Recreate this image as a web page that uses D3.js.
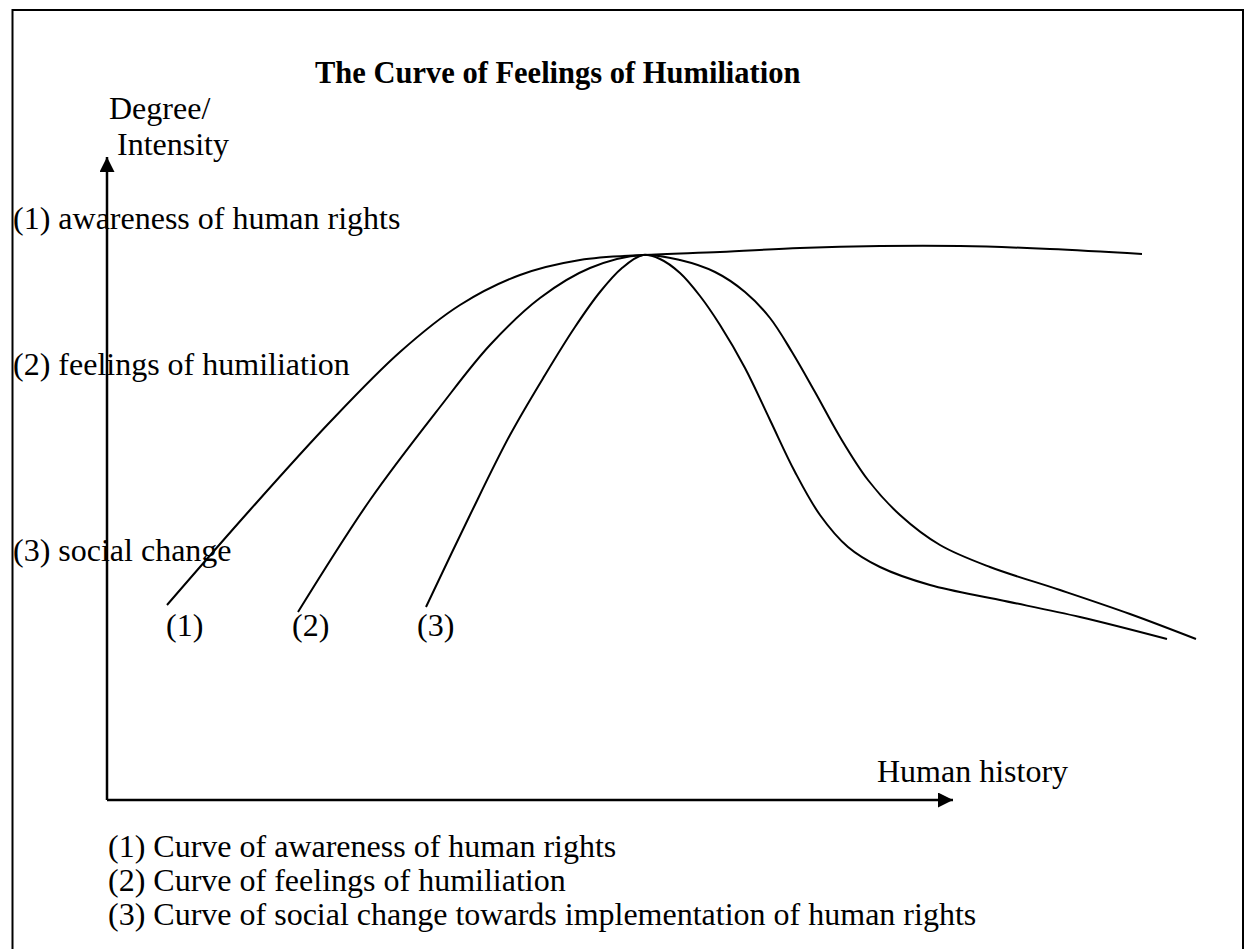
<!DOCTYPE html>
<html>
<head>
<meta charset="utf-8">
<script src="https://cdn.jsdelivr.net/npm/d3@7"></script>
<style>
    body { margin: 0; background: #fff; }
    svg { display: block; }
    text { font-family: "Liberation Serif", "Times New Roman", serif; fill: #000; }
</style>
</head>
<body>
<div id="chart"></div>
<script>
"use strict";

/* Values: history on x, degree/intensity on y. */
var titleText = "The Curve of Feelings of Humiliation",
    yAxisLabel = ["Degree/", "Intensity"],
    xAxisLabel = "Human history",

    sideLabels = [
	"(1) awareness of human rights",
	"(2) feelings of humiliation",
	"(3) social change"
    ],
    curveIds = ["(1)", "(2)", "(3)"],
    legendLines = [
	"(1) Curve of awareness of human rights",
	"(2) Curve of feelings of humiliation",
	"(3) Curve of social change towards implementation of human rights"
    ],

    // (1) awareness of human rights
    awarenessCurve = [
	[6.0, 19.5], [14.3, 29.0], [22.3, 37.8], [29.3, 44.8], [35.3, 49.5],
	[41.3, 52.5], [47.3, 54.0], [53.6, 54.5], [61.3, 54.8], [69.3, 55.2],
	[77.3, 55.4], [85.3, 55.4], [94.3, 55.1], [103.5, 54.6]
    ],
    // (2) feelings of humiliation
    humiliationCurve = [
	[19.1, 18.8], [26.3, 30.0], [33.3, 39.3], [38.3, 45.5], [43.3, 50.2],
	[48.3, 53.2], [53.6, 54.5], [57.3, 54.0], [60.8, 52.8], [63.8, 50.8],
	[66.3, 48.2], [68.5, 44.8], [70.8, 40.8], [73.3, 36.3], [76.1, 32.0],
	[79.3, 28.5], [83.3, 25.5], [88.3, 23.3], [95.3, 21.0], [102.3, 18.6],
	[108.9, 16.1]
    ],
    // (3) social change
    socialChangeCurve = [
	[31.9, 19.3], [36.3, 28.5], [40.3, 36.5], [43.8, 42.5], [46.8, 47.3],
	[49.3, 50.8], [51.5, 53.2], [53.6, 54.5], [55.3, 54.1], [57.3, 52.7],
	[59.3, 50.4], [61.3, 47.5], [63.8, 43.2], [66.3, 38.0], [68.8, 32.8],
	[71.3, 28.5], [74.1, 25.3], [77.3, 23.3], [82.3, 21.5], [89.3, 20.0],
	[97.3, 18.3], [106.0, 16.1]
    ],

    width = 1248,
    height = 949,
    fontSize = 32,
    titleSize = 30.5;

var svg = d3.select("#chart")
	.append("svg")
	.attr("width", width)
	.attr("height", height);

// frame round the figure
svg.append("rect")
    .attr("x", 12.5)
    .attr("y", 10)
    .attr("width", 1230.5)
    .attr("height", 960)
    .attr("fill", "none")
    .attr("stroke", "#000")
    .attr("stroke-width", 2);

var x = d3.scaleLinear().domain([0, 84.6]).range([107, 953]),
    y = d3.scaleLinear().domain([0, 64.3]).range([800, 157]);

var defs = svg.append("defs");

defs.append("marker")
    .attr("id", "arrow")
    .attr("viewBox", "0 0 10 10")
    .attr("refX", 10)
    .attr("refY", 5)
    .attr("markerUnits", "userSpaceOnUse")
    .attr("markerWidth", 16)
    .attr("markerHeight", 15)
    .attr("orient", "auto")
    .append("path")
    .attr("d", "M0,0L10,5L0,10Z")
    .attr("fill", "#000");

var axes = svg.append("g").attr("class", "axes");

axes.append("line")
    .attr("x1", x(0)).attr("y1", y(0))
    .attr("x2", x(0)).attr("y2", y(64.3))
    .attr("stroke", "#000")
    .attr("stroke-width", 2.5)
    .attr("marker-end", "url(#arrow)");

axes.append("line")
    .attr("x1", x(0)).attr("y1", y(0))
    .attr("x2", x(84.6)).attr("y2", y(0))
    .attr("stroke", "#000")
    .attr("stroke-width", 2.5)
    .attr("marker-end", "url(#arrow)");

var line = d3.line()
	.x(function(d) { return x(d[0]); })
	.y(function(d) { return y(d[1]); })
	.curve(d3.curveCatmullRom.alpha(0.5));

svg.append("g")
    .attr("class", "curves")
    .selectAll("path")
    .data([awarenessCurve, humiliationCurve, socialChangeCurve])
    .enter()
    .append("path")
    .attr("d", line)
    .attr("fill", "none")
    .attr("stroke", "#000")
    .attr("stroke-width", 2);

// texts
svg.append("text")
    .attr("x", 315)
    .attr("y", 83)
    .attr("font-size", titleSize)
    .attr("font-weight", "bold")
    .text(titleText);

svg.selectAll("text.y-label")
    .data(yAxisLabel)
    .enter()
    .append("text")
    .classed("y-label", true)
    .attr("x", function(d, i) { return i === 0 ? 109 : 117; })
    .attr("y", function(d, i) { return i === 0 ? 119 : 155; })
    .attr("font-size", fontSize)
    .text(function(d) { return d; });

svg.append("text")
    .attr("x", 877)
    .attr("y", 782)
    .attr("font-size", fontSize)
    .text(xAxisLabel);

var sideY = [229, 375, 561];

svg.selectAll("text.side-label")
    .data(sideLabels)
    .enter()
    .append("text")
    .classed("side-label", true)
    .attr("x", 13)
    .attr("y", function(d, i) { return sideY[i]; })
    .attr("font-size", fontSize)
    .text(function(d) { return d; });

var idX = [166, 292, 417];

svg.selectAll("text.curve-id")
    .data(curveIds)
    .enter()
    .append("text")
    .classed("curve-id", true)
    .attr("x", function(d, i) { return idX[i]; })
    .attr("y", 636)
    .attr("font-size", fontSize)
    .text(function(d) { return d; });

svg.selectAll("text.legend-line")
    .data(legendLines)
    .enter()
    .append("text")
    .classed("legend-line", true)
    .attr("x", 108)
    .attr("y", function(d, i) { return 857 + i * 34; })
    .attr("font-size", fontSize)
    .text(function(d) { return d; });
</script>
</body>
</html>
